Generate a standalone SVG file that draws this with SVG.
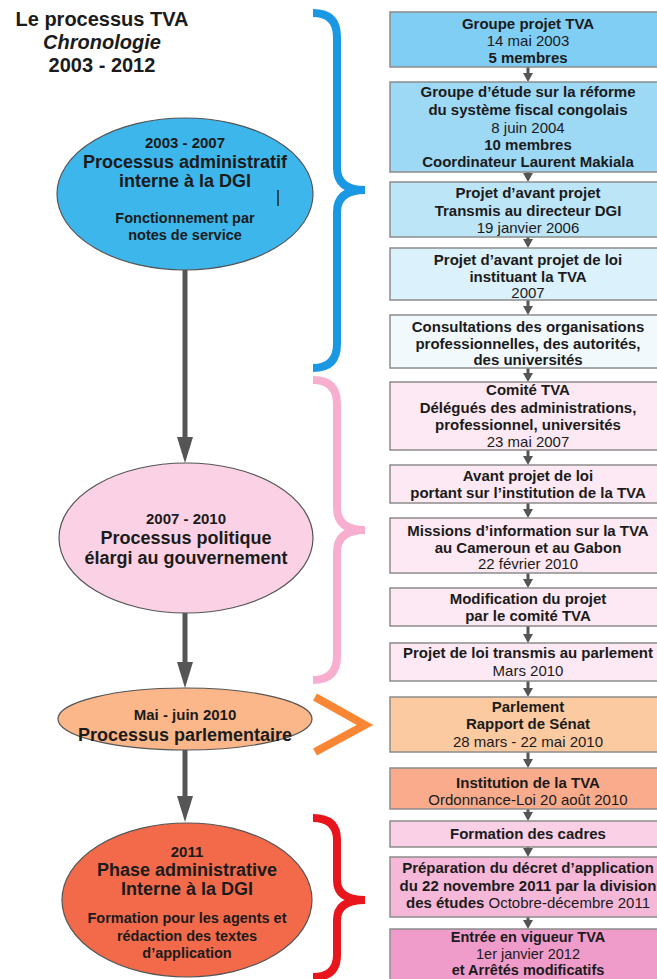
<svg xmlns="http://www.w3.org/2000/svg" width="657" height="979" viewBox="0 0 657 979">
  <style>
    text { font-family: "Liberation Sans", Arial, sans-serif; fill: #1b1b1b; text-anchor: middle; }
    .title { font-size: 20px; font-weight: bold; }
    .bt { font-size: 15px; }
    .sm { font-size: 14.5px; }
    .b { font-weight: bold; }
    .e1 { font-size: 15px; font-weight: bold; }
    .e2 { font-size: 18px; font-weight: bold; }
    .e3 { font-size: 14.5px; font-weight: bold; }
    .box { stroke: #8c8c8c; stroke-width: 1.5; }
    .ell { stroke: #555; stroke-width: 1.2; }
    .brace { fill: none; stroke-width: 8; }
    .step { stroke: #555; stroke-width: 3; fill: none; marker-end: url(#tipS); }
    .phase { stroke: #555; stroke-width: 5; fill: none; marker-end: url(#tipL); }
  </style>
  <defs>
    <marker id="tipS" markerUnits="userSpaceOnUse" viewBox="0 0 9 10" markerWidth="9" markerHeight="10" refX="0" refY="5" orient="auto">
      <path d="M0,0 L9,5 L0,10 z" fill="#555"/>
    </marker>
    <marker id="tipL" markerUnits="userSpaceOnUse" viewBox="0 0 26 16" markerWidth="26" markerHeight="16" refX="0" refY="8" orient="auto">
      <path d="M0,0 L26,8 L0,16 z" fill="#555"/>
    </marker>
  </defs>

  <rect width="657" height="979" fill="#ffffff"/>

  <!-- heading -->
  <g id="heading">
    <text class="title" x="102" y="26">Le processus TVA</text>
    <text class="title" x="102" y="49" font-style="italic">Chronologie</text>
    <text class="title" x="102" y="72">2003 - 2012</text>
  </g>

  <!-- braces and chevron grouping the steps by phase -->
  <g id="brackets">
    <path class="brace" stroke="#1b98e3" d="M313,13 Q337,13 337,37 L337,168 Q337,190 365,190 Q337,190 337,212 L337,344 Q337,368 313,368"/>
    <path class="brace" stroke="#f8afcf" d="M313,380 Q337,380 337,404 L337,508 Q337,530 365,530 Q337,530 337,552 L337,656 Q337,680 313,680"/>
    <polyline class="brace" stroke="#f98634" points="315,697 365,725 315,752"/>
    <path class="brace" stroke="#e8161c" d="M313,818 Q337,818 337,840 L337,880 Q337,900 365,900 Q337,900 337,920 L337,955 Q337,977 313,977"/>
  </g>

  <!-- connectors -->
  <g id="connectors">
    <line class="phase" x1="185" y1="270" x2="185" y2="437"/>
    <line class="phase" x1="185" y1="612" x2="185" y2="662"/>
    <line class="phase" x1="185" y1="750" x2="185" y2="796"/>
    <line class="step" x1="528" y1="67" x2="528" y2="73"/>
    <line class="step" x1="528" y1="172" x2="528" y2="173"/>
    <line class="step" x1="528" y1="237" x2="528" y2="239"/>
    <line class="step" x1="528" y1="300" x2="528" y2="306"/>
    <line class="step" x1="528" y1="368" x2="528" y2="373"/>
    <line class="step" x1="528" y1="450" x2="528" y2="456"/>
    <line class="step" x1="528" y1="503" x2="528" y2="509"/>
    <line class="step" x1="528" y1="573" x2="528" y2="579"/>
    <line class="step" x1="528" y1="626" x2="528" y2="634"/>
    <line class="step" x1="528" y1="681" x2="528" y2="688"/>
    <line class="step" x1="528" y1="752" x2="528" y2="759"/>
    <line class="step" x1="528" y1="809" x2="528" y2="812"/>
    <line class="step" x1="528" y1="847" x2="528" y2="848"/>
    <line class="step" x1="528" y1="917" x2="528" y2="920"/>
  </g>

  <!-- phases -->
  <g id="phase-2003-2007">
    <ellipse class="ell" cx="185" cy="194" rx="128" ry="76" fill="#3cb6eb"/>
    <text class="e1" x="185" y="148">2003 - 2007</text>
    <text class="e2" x="185" y="168">Processus administratif</text>
    <text class="e2" x="185" y="187">interne à la DGI</text>
    <line x1="278" y1="190" x2="278" y2="206" stroke="#222" stroke-width="1.5"/>
    <text class="e3" x="185" y="223">Fonctionnement par</text>
    <text class="e3" x="185" y="240">notes de service</text>
  </g>
  <g id="phase-2007-2010">
    <ellipse class="ell" cx="186" cy="538" rx="127" ry="75" fill="#fbd2e5"/>
    <text class="e1" x="186" y="524">2007 - 2010</text>
    <text class="e2" x="186" y="544">Processus politique</text>
    <text class="e2" x="186" y="564">élargi au gouvernement</text>
  </g>
  <g id="phase-2010">
    <ellipse class="ell" cx="185" cy="719" rx="127" ry="31" fill="#fbb789"/>
    <text class="e1" x="185" y="720">Mai - juin 2010</text>
    <text class="e2" x="185" y="741">Processus parlementaire</text>
  </g>
  <g id="phase-2011">
    <ellipse class="ell" cx="187" cy="900" rx="125" ry="77" fill="#f26a4a"/>
    <text class="e1" x="187" y="857">2011</text>
    <text class="e2" x="187" y="876">Phase administrative</text>
    <text class="e2" x="187" y="895">Interne à la DGI</text>
    <text class="e3" x="187" y="923">Formation pour les agents et</text>
    <text class="e3" x="187" y="941">rédaction des textes</text>
    <text class="e3" x="187" y="958">d’application</text>
  </g>

  <!-- steps -->
  <g id="step-01">
    <rect class="box" x="390" y="12" width="280" height="55" fill="#80cef4"/>
    <text class="bt b" x="528" y="29">Groupe projet TVA</text>
    <text class="bt" x="528" y="46">14 mai 2003</text>
    <text class="bt b" x="528" y="63">5 membres</text>
  </g>
  <g id="step-02">
    <rect class="box" x="390" y="82" width="280" height="90" fill="#9dd8f5"/>
    <text class="bt b" x="528" y="97">Groupe d’étude sur la réforme</text>
    <text class="bt b" x="528" y="115">du système fiscal congolais</text>
    <text class="bt" x="528" y="133">8 juin 2004</text>
    <text class="bt b" x="528" y="150">10 membres</text>
    <text class="bt b" x="528" y="167">Coordinateur Laurent Makiala</text>
  </g>
  <g id="step-03">
    <rect class="box" x="390" y="182" width="280" height="55" fill="#bde5f8"/>
    <text class="bt b" x="528" y="198">Projet d’avant projet</text>
    <text class="bt b" x="528" y="216">Transmis au directeur DGI</text>
    <text class="bt" x="528" y="233">19 janvier 2006</text>
  </g>
  <g id="step-04">
    <rect class="box" x="390" y="248" width="280" height="52" fill="#dbf1fb"/>
    <text class="bt b" x="528" y="265">Projet d’avant projet de loi</text>
    <text class="bt b" x="528" y="282">instituant la TVA</text>
    <text class="bt" x="528" y="298">2007</text>
  </g>
  <g id="step-05">
    <rect class="box" x="390" y="315" width="280" height="53" fill="#f2f9fd"/>
    <text class="bt b" x="528" y="332">Consultations des organisations</text>
    <text class="bt b" x="528" y="349">professionnelles, des autorités,</text>
    <text class="bt b" x="528" y="365">des universités</text>
  </g>
  <g id="step-06">
    <rect class="box" x="390" y="382" width="280" height="68" fill="#fde9f3"/>
    <text class="bt b" x="528" y="395">Comité TVA</text>
    <text class="bt b" x="528" y="413">Délégués des administrations,</text>
    <text class="bt b" x="528" y="430">professionnel, universités</text>
    <text class="bt" x="528" y="447">23 mai 2007</text>
  </g>
  <g id="step-07">
    <rect class="box" x="390" y="465" width="280" height="38" fill="#fde9f3"/>
    <text class="bt b" x="528" y="481">Avant projet de loi</text>
    <text class="bt b" x="528" y="498">portant sur l’institution de la TVA</text>
  </g>
  <g id="step-08">
    <rect class="box" x="390" y="518" width="280" height="55" fill="#fde9f3"/>
    <text class="bt b" x="528" y="536">Missions d’information sur la TVA</text>
    <text class="bt b" x="528" y="553">au Cameroun et au Gabon</text>
    <text class="bt" x="528" y="569">22 février 2010</text>
  </g>
  <g id="step-09">
    <rect class="box" x="390" y="588" width="280" height="38" fill="#fde9f3"/>
    <text class="bt b" x="528" y="604">Modification du projet</text>
    <text class="bt b" x="528" y="621">par le comité TVA</text>
  </g>
  <g id="step-10">
    <rect class="box" x="390" y="643" width="280" height="38" fill="#fde9f3"/>
    <text class="bt b" x="528" y="658">Projet de loi transmis au parlement</text>
    <text class="bt" x="528" y="676">Mars 2010</text>
  </g>
  <g id="step-11">
    <rect class="box" x="390" y="697" width="280" height="55" fill="#fccaa1"/>
    <text class="bt b" x="528" y="712">Parlement</text>
    <text class="bt b" x="528" y="729">Rapport de Sénat</text>
    <text class="bt" x="528" y="747">28 mars - 22 mai 2010</text>
  </g>
  <g id="step-12">
    <rect class="box" x="390" y="768" width="280" height="41" fill="#f9ab8c"/>
    <text class="bt b" x="528" y="788">Institution de la TVA</text>
    <text class="bt" x="528" y="805">Ordonnance-Loi 20 août 2010</text>
  </g>
  <g id="step-13">
    <rect class="box" x="390" y="821" width="280" height="26" fill="#f9d0e6"/>
    <text class="bt b" x="528" y="839">Formation des cadres</text>
  </g>
  <g id="step-14">
    <rect class="box" x="390" y="857" width="280" height="60" fill="#f5b8d9"/>
    <text class="bt b" x="528" y="873">Préparation du décret d’application</text>
    <text class="bt b" x="528" y="891">du 22 novembre 2011 par la division</text>
    <text class="bt" x="528" y="908"><tspan class="b">des études</tspan> Octobre-décembre 2011</text>
  </g>
  <g id="step-15">
    <rect class="box" x="390" y="929" width="280" height="60" fill="#ef9ccb"/>
    <text class="sm b" x="528" y="942">Entrée en vigueur TVA</text>
    <text class="sm" x="528" y="958.5">1er janvier 2012</text>
    <text class="sm b" x="528" y="975">et Arrêtés modificatifs</text>
  </g>
</svg>
